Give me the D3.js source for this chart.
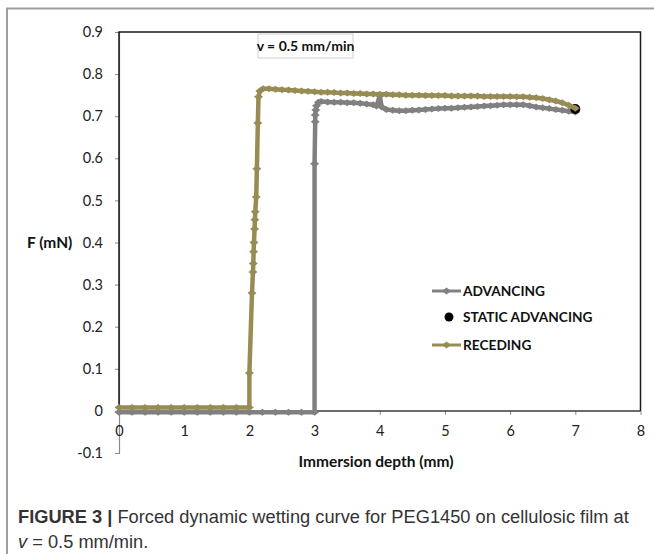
<!DOCTYPE html>
<html>
<head>
<meta charset="utf-8">
<script src="https://cdn.jsdelivr.net/npm/d3@7"></script>
<style>
  html, body { margin: 0; padding: 0; background: #fff; }
  svg { display: block; }
</style>
</head>
<body>
<svg id="chart" width="654" height="554"></svg>
<script>
// ---- data ----
const advancingX = [0,0.2,0.4,0.6,0.8,1.0,1.2,1.4,1.6,1.8,2.0,2.2,2.4,2.6,2.8,3.0,
  3.0,3.01,3.01,3.02,3.03,3.06,
  3.1,3.2,3.3,3.4,3.5,3.6,3.7,3.8,3.9,
  3.95,4.0,4.03,
  4.1,4.2,4.3,4.4,4.5,4.6,4.7,4.8,4.9,5.0,5.1,5.2,5.3,5.4,5.5,5.6,5.7,5.8,5.9,6.0,6.1,6.2,6.3,6.4,6.5,6.6,6.7,6.8,6.9,7.0];
const advancingY = [-0.003,-0.003,-0.003,-0.003,-0.003,-0.003,-0.003,-0.003,-0.003,-0.003,-0.003,-0.003,-0.003,-0.003,-0.003,-0.003,
  0.587,0.687,0.703,0.715,0.725,0.733,
  0.735,0.734,0.733,0.733,0.732,0.732,0.731,0.729,0.727,
  0.724,0.748,0.722,
  0.716,0.714,0.713,0.713,0.714,0.715,0.716,0.717,0.718,0.719,0.719,0.720,0.721,0.722,0.723,0.724,0.725,0.726,0.727,0.727,0.727,0.727,0.725,0.722,0.720,0.718,0.716,0.714,0.712,0.710];

const recedingX = [0,0.2,0.4,0.6,0.8,1.0,1.2,1.4,1.6,1.8,2.0,
  2.0,2.04,2.055,2.06,2.065,2.07,2.08,2.085,2.09,2.105,2.115,2.13,2.14,2.16,2.21,
  2.3,2.4,2.5,2.6,2.7,2.8,2.9,3.0,3.1,3.2,3.3,3.4,3.5,3.6,3.7,3.8,3.9,4.0,4.1,4.2,4.3,4.4,4.5,4.6,4.7,4.8,4.9,5.0,
  5.1,5.2,5.3,5.4,5.5,5.6,5.7,5.8,5.9,6.0,6.1,6.2,6.3,6.4,6.5,6.6,6.7,6.8,6.9,7.0];
const recedingY = [0.008,0.008,0.008,0.008,0.008,0.008,0.008,0.008,0.008,0.008,0.008,
  0.09,0.28,0.33,0.35,0.378,0.40,0.432,0.454,0.473,0.508,0.575,0.684,0.746,0.760,0.765,
  0.765,0.764,0.763,0.762,0.761,0.760,0.759,0.758,0.757,0.757,0.756,0.755,0.755,0.754,0.754,0.753,0.753,0.752,0.752,0.751,0.751,0.750,0.750,0.750,0.749,0.749,0.749,0.749,
  0.748,0.748,0.748,0.748,0.748,0.747,0.747,0.747,0.747,0.747,0.746,0.746,0.745,0.744,0.742,0.739,0.736,0.732,0.726,0.719];

const staticX = [7.0];
const staticY = [0.717];

const xTicks = [0,1,2,3,4,5,6,7,8];
const yTicks = [-0.1,0,0.1,0.2,0.3,0.4,0.5,0.6,0.7,0.8,0.9];

const seriesNames = ["ADVANCING", "STATIC ADVANCING", "RECEDING"];
const seriesColors = ["#808080", "#000000", "#978c54"];

// ---- drawing ----
const svg = d3.select("#chart");
const x = d3.scaleLinear().domain([0, 8]).range([119, 640.5]);
const y = d3.scaleLinear().domain([-0.1, 0.9]).range([453, 32]);
const tickFont = "Lato, 'Open Sans', sans-serif";

// outer figure frame
svg.append("path").attr("d", "M7,554 L7,8.5 L654,8.5")
  .attr("fill", "none").attr("stroke", "#9d9d9d").attr("stroke-width", 2);

// y axis (gray line with left ticks)
const yAxis = d3.axisLeft(y).tickValues(yTicks).tickSize(4)
  .tickFormat(d => String(+d.toFixed(1)));
const gy = svg.append("g").attr("transform", `translate(${x(0)},0)`).call(yAxis);
gy.select(".domain").attr("stroke", "#8a8a8a").attr("stroke-width", 1.2);
gy.selectAll(".tick line").attr("stroke", "#8a8a8a");
gy.selectAll(".tick text").attr("font-family", tickFont).attr("font-size", 14.5)
  .attr("fill", "#222").attr("x", -16);

// x axis at y = 0
const xAxis = d3.axisBottom(x).tickValues(xTicks).tickSize(4).tickFormat(d3.format("d"));
const gx = svg.append("g").attr("transform", `translate(0,${y(0)})`).call(xAxis);
gx.select(".domain").remove();
gx.selectAll(".tick line").attr("stroke", "#8a8a8a");
gx.selectAll(".tick text").attr("font-family", tickFont).attr("font-size", 14.5)
  .attr("fill", "#222").attr("y", 15);

// plot-area border
svg.append("path")
  .attr("d", `M${x(0)},${y(0)} L${x(0)},${y(0.9)} L${x(8)},${y(0.9)} L${x(8)},${y(0)}`)
  .attr("fill", "none").attr("stroke", "#1a1a1a").attr("stroke-width", 1.5);
svg.append("line").attr("x1", x(0)).attr("x2", x(8)).attr("y1", y(0)).attr("y2", y(0))
  .attr("stroke", "#3a3a3a").attr("stroke-width", 1.5);

// series
const line = d3.line().x(d => x(d[0])).y(d => y(d[1]));
const diamond = (cx, cy) => `M${cx - 4.5},${cy} L${cx},${cy - 3.5} L${cx + 4.5},${cy} L${cx},${cy + 3.5} Z`;

function drawSeries(xs, ys, color) {
  const pts = xs.map((v, i) => [v, ys[i]]);
  const g = svg.append("g");
  g.append("path").datum(pts).attr("d", line)
    .attr("fill", "none").attr("stroke", color).attr("stroke-width", 4.5)
    .attr("stroke-linejoin", "round");
  g.selectAll("path.m").data(pts).enter().append("path").attr("class", "m")
    .attr("d", d => diamond(x(d[0]), y(d[1]))).attr("fill", color);
}
drawSeries(advancingX, advancingY, seriesColors[0]);
svg.selectAll("circle.static").data(staticX.map((v, i) => [v, staticY[i]])).enter()
  .append("circle").attr("class", "static")
  .attr("cx", d => x(d[0])).attr("cy", d => y(d[1])).attr("r", 5).attr("fill", seriesColors[1]);
drawSeries(recedingX, recedingY, seriesColors[2]);

// title box
const tb = svg.append("g");
tb.append("rect").attr("x", 258).attr("y", 34).attr("width", 95).attr("height", 24)
  .attr("fill", "#fff").attr("stroke", "#cfcfcf").attr("stroke-width", 1);
tb.append("text").attr("x", 305.5).attr("y", 51).attr("text-anchor", "middle")
  .attr("font-family", tickFont).attr("font-weight", "bold").attr("font-size", 14)
  .attr("fill", "#111").text("v = 0.5 mm/min");

// axis titles
svg.append("text").attr("x", 27).attr("y", 248).attr("font-family", tickFont)
  .attr("font-weight", "bold").attr("font-size", 15.5).attr("fill", "#111").text("F (mN)");
svg.append("text").attr("x", 376).attr("y", 467).attr("text-anchor", "middle")
  .attr("font-family", tickFont).attr("font-weight", "bold").attr("font-size", 15.5)
  .attr("fill", "#111").text("Immersion depth (mm)");

// legend
const legendY = [291, 317, 345];
const lg = svg.append("g");
seriesNames.forEach((name, i) => {
  const ly = legendY[i];
  if (i === 1) {
    lg.append("circle").attr("cx", 449).attr("cy", ly).attr("r", 4.5).attr("fill", seriesColors[i]);
  } else {
    lg.append("line").attr("x1", 432).attr("x2", 461).attr("y1", ly).attr("y2", ly)
      .attr("stroke", seriesColors[i]).attr("stroke-width", 3);
    lg.append("path").attr("d", diamond(446.5, ly)).attr("fill", seriesColors[i]);
  }
  lg.append("text").attr("x", 463).attr("y", ly + 5).attr("font-family", tickFont)
    .attr("font-weight", "bold").attr("font-size", 13.7).attr("fill", "#111").text(name);
});

// caption
const capFont = "'Liberation Sans Narrow', 'Liberation Sans', Arial, sans-serif";
const cap1 = svg.append("text").attr("x", 0).attr("y", 0)
  .attr("font-family", capFont).attr("font-size", 18).attr("fill", "#333");
cap1.append("tspan").attr("font-weight", "bold").text("FIGURE 3 | ");
cap1.append("tspan").text("Forced dynamic wetting curve for PEG1450 on cellulosic film at");
const w1 = cap1.node().getComputedTextLength();
cap1.attr("transform", `translate(18,523) scale(${611 / w1},1)`);

const cap2 = svg.append("text").attr("x", 0).attr("y", 0)
  .attr("font-family", capFont).attr("font-size", 18).attr("fill", "#333");
cap2.append("tspan").attr("font-style", "italic").text("v");
cap2.append("tspan").text(" = 0.5 mm/min.");
cap2.attr("transform", `translate(18,548) scale(${611 / w1},1)`);
</script>
</body>
</html>
